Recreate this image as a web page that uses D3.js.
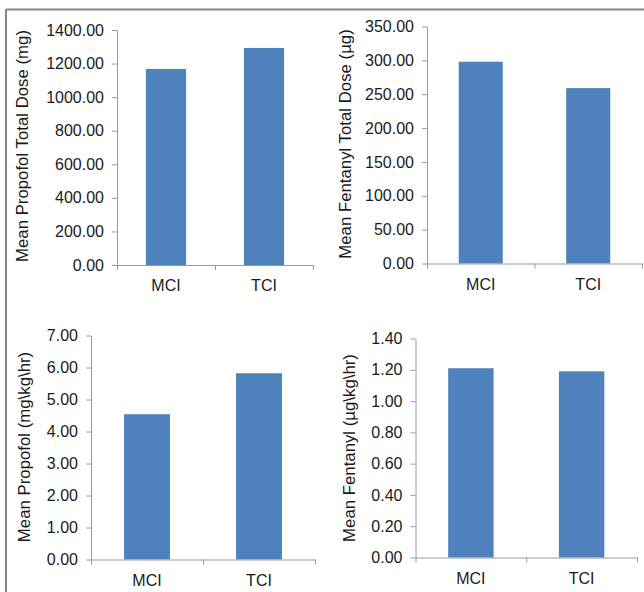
<!DOCTYPE html>
<html>
<head>
<meta charset="utf-8">
<script src="https://cdn.jsdelivr.net/npm/d3@7"></script>
<style>
  html, body { margin: 0; padding: 0; background: #fff; }
  svg { display: block; font-family: "Liberation Sans", Arial, sans-serif; }
</style>
</head>
<body>
<svg id="chart" width="644" height="592"></svg>
<script>
// ---- data ----
const categories = ["MCI", "TCI"];
const propofolTotal = [1168, 1293];        // mg
const fentanylTotal = [298, 259];          // µg
const propofolRate = [4.54, 5.82];         // mg\kg\hr
const fentanylRate = [1.21, 1.19];         // µg\kg\hr
const propofolTotalTicks = [0, 200, 400, 600, 800, 1000, 1200, 1400];
const fentanylTotalTicks = [0, 50, 100, 150, 200, 250, 300, 350];
const propofolRateTicks = [0, 1, 2, 3, 4, 5, 6, 7];
const fentanylRateTicks = [0, 0.2, 0.4, 0.6, 0.8, 1.0, 1.2, 1.4];
const titles = [
  "Mean Propofol Total Dose (mg)",
  "Mean Fentanyl Total Dose (µg)",
  "Mean Propofol (mg\\kg\\hr)",
  "Mean Fentanyl (µg\\kg\\hr)"
];

// ---- layout ----
const panels = [
  { values: propofolTotal, ticks: propofolTotalTicks, title: titles[0],
    x0: 117, x1: 313, y0: 265, y1: 30, titleX: 22, titleY: 146 },
  { values: fentanylTotal, ticks: fentanylTotalTicks, title: titles[1],
    x0: 427, x1: 642, y0: 263.5, y1: 26.5, titleX: 345.5, titleY: 144 },
  { values: propofolRate, ticks: propofolRateTicks, title: titles[2],
    x0: 91, x1: 315, y0: 559.5, y1: 335.5, titleX: 24, titleY: 447 },
  { values: fentanylRate, ticks: fentanylRateTicks, title: titles[3],
    x0: 415.5, x1: 637, y0: 557.5, y1: 338.5, titleX: 349.5, titleY: 448 }
];

const barColor = "#4F81BD";
const axisColor = "#9a9a9a";
const textColor = "#1a1a1a";
const fontSize = "16px";
const titleSize = "16.8px";

const svg = d3.select("#chart");

// outer frame lines
svg.append("line").attr("x1", 6).attr("x2", 644).attr("y1", 9.5).attr("y2", 9.5)
  .attr("stroke", "#858585").attr("stroke-width", 2);
svg.append("line").attr("x1", 6).attr("x2", 6).attr("y1", 9).attr("y2", 592)
  .attr("stroke", "#858585").attr("stroke-width", 2);

panels.forEach(p => {
  const y = d3.scaleLinear()
    .domain([p.ticks[0], p.ticks[p.ticks.length - 1]])
    .range([p.y0, p.y1]);
  const x = d3.scaleBand().domain(categories).range([p.x0, p.x1])
    .paddingInner(0.59).paddingOuter(0.295);
  const xb = d3.scaleLinear().domain([0, categories.length]).range([p.x0, p.x1]);

  const g = svg.append("g");

  // bars
  g.selectAll("rect.bar").data(p.values).join("rect")
    .attr("class", "bar")
    .attr("x", (d, i) => x(categories[i]))
    .attr("width", x.bandwidth())
    .attr("y", d => y(d))
    .attr("height", d => y(0) - y(d))
    .attr("fill", barColor);

  // y axis
  const ya = g.append("g").attr("transform", `translate(${p.x0},0)`)
    .call(d3.axisLeft(y).tickValues(p.ticks).tickFormat(d3.format(".2f"))
      .tickSizeInner(5).tickSizeOuter(0).tickPadding(8));
  ya.select(".domain").attr("stroke", axisColor);
  ya.selectAll(".tick line").attr("stroke", axisColor);
  ya.selectAll(".tick text").attr("fill", textColor)
    .style("font-size", fontSize).style("font-family", "Liberation Sans, Arial, sans-serif");

  // x axis boundary ticks
  const xa = g.append("g").attr("transform", `translate(0,${p.y0})`)
    .call(d3.axisBottom(xb).tickValues(d3.range(categories.length + 1))
      .tickFormat("").tickSizeInner(5).tickSizeOuter(0));
  xa.select(".domain").attr("stroke", axisColor);
  xa.selectAll(".tick line").attr("stroke", axisColor);

  // x category labels
  const xl = g.append("g").attr("transform", `translate(0,${p.y0})`)
    .call(d3.axisBottom(x).tickSize(0).tickPadding(15));
  xl.select(".domain").remove();
  xl.selectAll(".tick text").attr("fill", textColor)
    .style("font-size", fontSize).style("font-family", "Liberation Sans, Arial, sans-serif");

  // y title
  g.append("text")
    .attr("transform", `translate(${p.titleX},${p.titleY}) rotate(-90)`)
    .attr("text-anchor", "middle")
    .attr("dominant-baseline", "central")
    .attr("fill", textColor)
    .style("font-size", titleSize)
    .text(p.title);
});
</script>
</body>
</html>
